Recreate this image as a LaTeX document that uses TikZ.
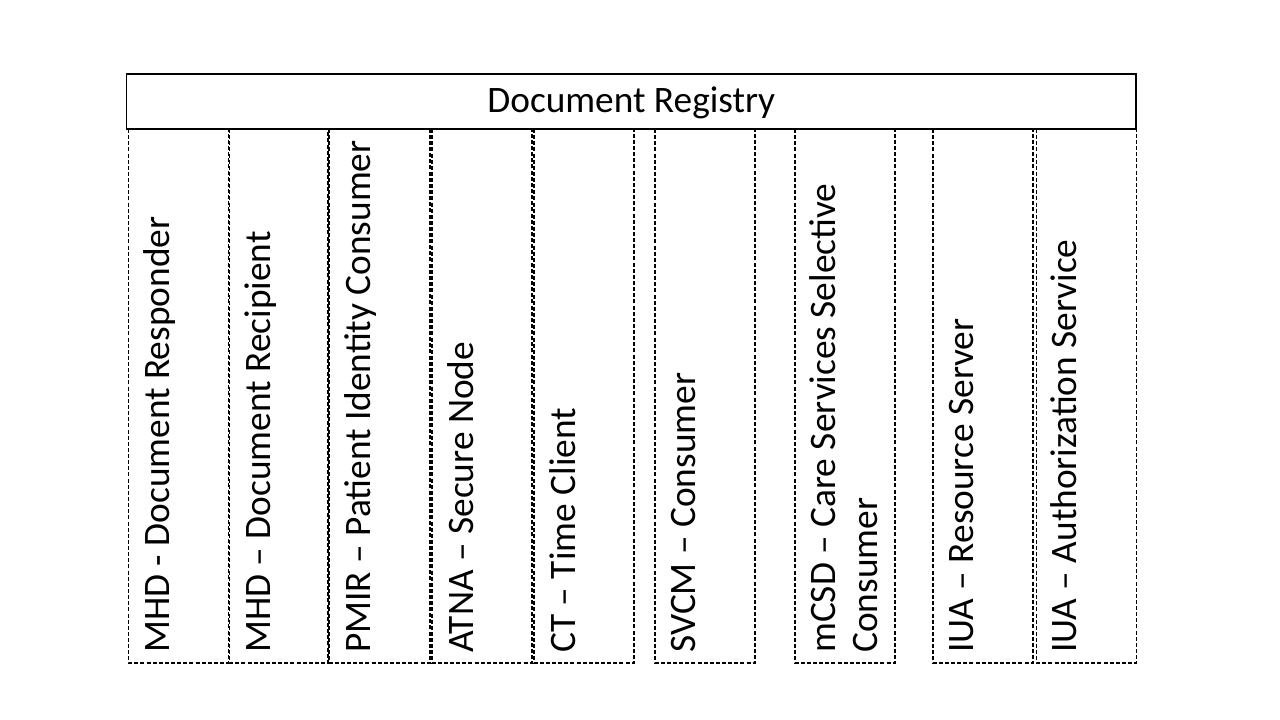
\documentclass[tikz,border=0pt]{standalone}
\usepackage{fontspec}
\setmainfont{Carlito}
\begin{document}
\begin{tikzpicture}[x=0.75pt,y=-0.75pt,
  titlebox/.style={draw=black, line width=1pt, inner sep=0pt,
    minimum width=757.1pt, minimum height=41.25pt,
    text height=21pt, text depth=4.2pt,
    font=\fontsize{28}{32}\selectfont},
  colbox/.style={draw=black, line width=0.85pt, dash pattern=on 3pt off 1.6pt},
  coltext/.style={rotate=90, anchor=north west, inner sep=0pt, align=left,
    font=\fontsize{28}{32}\selectfont}]
\useasboundingbox (0,0) rectangle (1280,720);
\fill[white] (0,0) rectangle (1280,720);
% columns
\draw[colbox] (128.5,129) rectangle (228.5,663);
\draw[colbox] (229.5,129) rectangle (328,663);
\draw[colbox] (329,129) rectangle (430,663);
\draw[colbox] (432,129) rectangle (532,663);
\draw[colbox] (534,129) rectangle (634,663);
\draw[colbox] (655,129) rectangle (755,663);
\draw[colbox] (795,129) rectangle (895,663);
\draw[colbox] (933,129) rectangle (1033,663);
\draw[colbox] (1036.5,129) rectangle (1136.5,663);
% title
\node[titlebox] (title) at (631.25,101.5) {Document Registry};
% column texts
\node[coltext] (t1) at (139.5,653) {\strut MHD - Document Responder};
\node[coltext] (t2) at (240.5,653) {\strut MHD – Document Recipient};
\node[coltext] (t3) at (340,653) {\strut PMIR – Patient Identity Consumer};
\node[coltext] (t4) at (443,653) {\strut ATNA – Secure Node};
\node[coltext] (t5) at (545,653) {\strut CT – Time Client};
\node[coltext] (t6) at (665,653) {\strut SVCM – Consumer};
\node[coltext] (t7) at (805,653) {\strut mCSD – Care Services Selective\\\strut Consumer};
\node[coltext] (t8) at (943,653) {\strut IUA – Resource Server};
\node[coltext] (t9) at (1046.5,653) {\strut IUA – Authorization Service};
\end{tikzpicture}
\end{document}
